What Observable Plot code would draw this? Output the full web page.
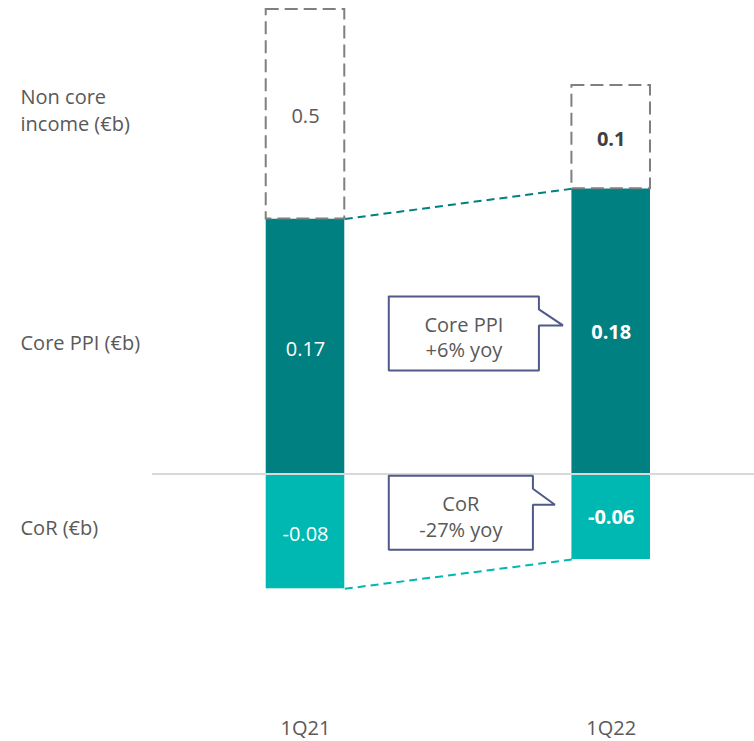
<!DOCTYPE html>
<html><head><meta charset="utf-8">
<script src="https://cdn.jsdelivr.net/npm/d3@7"></script>
<script src="https://cdn.jsdelivr.net/npm/@observablehq/plot@0.6"></script>
<style>html,body{margin:0;padding:0;background:#fff}</style>
</head><body><div id="chart"></div>
<script>
// ---- data ----
const quarters = ["1Q21", "1Q22"];
const nonCoreIncome = [0.5, 0.1];
const corePPI = [0.17, 0.18];
const costOfRisk = [-0.08, -0.06];
const seriesLabels = ["Non core\nincome (€b)", "Core PPI (€b)", "CoR (€b)"];
const calloutTexts = ["Core PPI\n+6% yoy", "CoR\n-27% yoy"];

// ---- style / layout options ----
const W = 754, H = 741;
const FONT = 20;
const colors = {core: "#008080", cor: "#00b8b2", noncore: "#7f7f7f", text: "#595959", callout: "#4f5a8a", rule: "#d9d9d9"};
const barWidth = 0.257;               // in x units (quarter spacing = 1)
const hw = barWidth / 2;
const xRange = [305, 610.7];
// non-to-scale (stylised) vertical scale: piecewise linear through the stack ends
const yRange = [588.3, 559, 473.5, 218.5, 188.3, 85, 9];

// ---- derived table ----
const segments = [];
quarters.forEach((q, i) => {
  segments.push({series: "cor", i, q, value: costOfRisk[i], y1: 0, y2: costOfRisk[i]});
  segments.push({series: "core", i, q, value: corePPI[i], y1: 0, y2: corePPI[i]});
  segments.push({series: "noncore", i, q, value: nonCoreIncome[i], y1: corePPI[i], y2: corePPI[i] + nonCoreIncome[i]});
});
const yKnots = Array.from(new Set(segments.flatMap(d => [d.y1, d.y2]))).sort((a, b) => a - b);
const ys = d3.scaleLinear().domain(yKnots).range(yRange);
const xs = d3.scaleLinear().domain([0, 1]).range(xRange);
const midY = d => ys.invert((ys(d.y1) + ys(d.y2)) / 2);
segments.forEach(d => { d.ym = midY(d); d.label = String(d.value); });

const seriesOrder = ["noncore", "core", "cor"];
const leftLabels = seriesOrder.map((s, k) => ({text: seriesLabels[k], y: segments.find(d => d.series === s && d.i === 0).ym}));

const connectors = [
  {y1: corePPI[0], y2: corePPI[1], color: colors.core},
  {y1: costOfRisk[0], y2: costOfRisk[1], color: colors.cor}
];

// callouts (annotation geometry, built in pixel space relative to the bars, mapped back through the scales)
const calloutCfg = [
  {series: "core", text: calloutTexts[0], tipGap: 9, tipDy: -6, pointerLen: 24},
  {series: "cor", text: calloutTexts[1], tipGap: 17, tipDy: -12, pointerLen: 22}
];
const calloutPts = [], calloutLabels = [];
calloutCfg.forEach((c, k) => {
  const seg = segments.find(d => d.series === c.series && d.i === 1);
  const tipX = xs(1 - hw) - c.tipGap;
  const tipY = ys(seg.ym) + c.tipDy;
  const right = tipX - c.pointerLen;
  const left = xs(0 + hw) + 44;
  const top = tipY - 29, bottom = top + 74;
  const poly = [[left, top], [right, top], [right, tipY - 16], [tipX, tipY], [right, tipY], [right, bottom], [left, bottom], [left, top]];
  poly.forEach(([px, py]) => calloutPts.push({id: k, x: xs.invert(px), y: ys.invert(py)}));
  calloutLabels.push({text: c.text, x: xs.invert((left + right) / 2), y: ys.invert(top + 39.75)});
});

const plot = Plot.plot({
  width: W, height: H,
  marginLeft: 152, marginRight: 0, marginTop: 0, marginBottom: 0,
  style: {fontFamily: "'Open Sans', sans-serif", background: "white", overflow: "visible"},
  x: {type: "linear", domain: [0, 1], range: xRange, axis: null},
  y: {type: "linear", domain: yKnots, range: yRange, axis: null},
  marks: [
    Plot.link(connectors, {x1: () => hw, x2: () => 1 - hw, y1: "y1", y2: "y2",
      stroke: d => d.color, strokeWidth: 2, strokeDasharray: "8,5"}),
    Plot.rect(segments.filter(d => d.series !== "noncore"), {
      x1: d => d.i - hw, x2: d => d.i + hw, y1: "y1", y2: "y2",
      fill: d => d.series === "core" ? colors.core : colors.cor}),
    Plot.rect(segments.filter(d => d.series === "noncore"), {
      x1: d => d.i - hw, x2: d => d.i + hw, y1: "y1", y2: "y2",
      fill: "white", stroke: colors.noncore, strokeWidth: 2, strokeDasharray: "13,6"}),
    Plot.ruleY([0], {stroke: colors.rule, strokeWidth: 2}),
    // value labels
    Plot.text(segments.filter(d => d.series !== "noncore" && d.i === 0), {x: "i", y: "ym", text: "label", fill: "white", fontSize: FONT, dy: 3}),
    Plot.text(segments.filter(d => d.series !== "noncore" && d.i === 1), {x: "i", y: "ym", text: "label", fill: "white", fontSize: FONT, fontWeight: "bold", dy: 1}),
    Plot.text(segments.filter(d => d.series === "noncore" && d.i === 0), {x: "i", y: "ym", text: "label", fill: colors.text, fontSize: FONT, dy: 2}),
    Plot.text(segments.filter(d => d.series === "noncore" && d.i === 1), {x: "i", y: "ym", text: "label", fill: "#404040", fontSize: FONT, fontWeight: "bold", dy: 2}),
    // series labels at left
    Plot.text(leftLabels, {frameAnchor: "left", y: "y", text: "text", dx: -132, dy: -5.5, textAnchor: "start",
      fill: colors.text, fontSize: FONT, lineHeight: 1.35}),
    // quarter labels
    Plot.text(quarters, {x: (d, i) => i, frameAnchor: "bottom", text: d => d, dy: -13, lineAnchor: "middle",
      fill: colors.text, fontSize: FONT}),
    // callouts
    Plot.line(calloutPts, {x: "x", y: "y", z: "id", fill: "white", stroke: colors.callout, strokeWidth: 2, strokeLinejoin: "miter"}),
    Plot.text(calloutLabels, {x: "x", y: "y", text: "text", fill: colors.text, fontSize: FONT, lineHeight: 1.28, lineAnchor: "middle"})
  ]
});
document.getElementById("chart").appendChild(plot);
</script>
</body></html>
